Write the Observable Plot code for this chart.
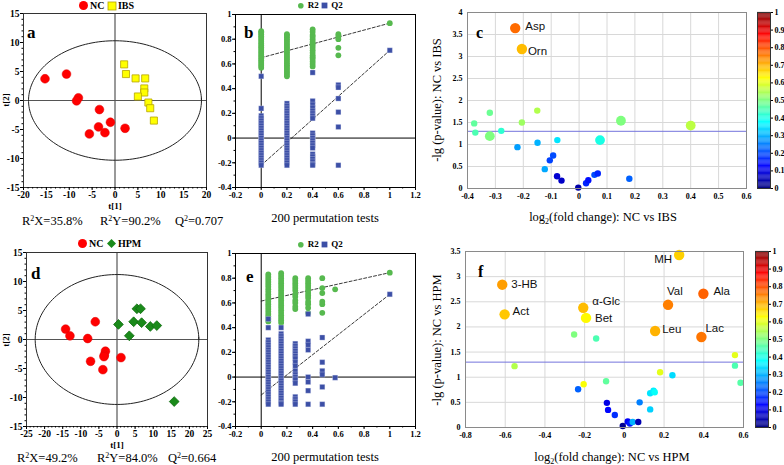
<!DOCTYPE html>
<html><head><meta charset="utf-8">
<script src="https://cdn.jsdelivr.net/npm/d3@7"></script>
<script src="https://cdn.jsdelivr.net/npm/@observablehq/plot@0.6"></script>
<style>
body{margin:0;background:#fff;}
#c{position:relative;width:784px;height:465px;overflow:hidden;background:#fff;font-family:"Liberation Serif","Times New Roman",serif;color:#000;}
.t{position:absolute;white-space:nowrap;line-height:1;}
.lg{position:absolute;display:flex;align-items:center;font-weight:bold;font-size:10px;line-height:1;white-space:nowrap;}
.lg svg{margin-right:1px;}
.sup{font-size:8px;position:relative;top:-4px;}
.sub{font-size:8px;position:relative;top:3px;}
</style></head><body><div id="c"></div>
<script>
// ---------- DATA ----------
// Panel a (OPLS-DA scores NC vs IBS)
const aNCx = [-15.3,-10.6,-8.0,-8.4,-3.4,-1.0,-3.6,-5.6,-2.2,2.2];
const aNCy = [3.75,4.56,0.46,-0.06,-1.56,-3.75,-4.56,-5.77,-5.54,-4.79];
const aIBSx = [2.0,2.4,4.5,6.6,6.4,6.4,5.0,7.3,7.7,8.5];
const aIBSy = [6.23,4.56,3.81,3.81,2.08,1.38,0.69,-0.35,-1.33,-3.46];
const aEllipseRadii = [18.9,10.3];
const aTicksX = [-20,-15,-10,-5,0,5,10,15,20];
const aTicksY = [-15,-10,-5,0,5,10,15];
const aStats = ["35.8%","90.2%","0.707"];

// Panel d (OPLS-DA scores NC vs HPM)
const dNCx = [-14.2,-13.0,-6.0,-8.1,-3.2,-3.5,-3.6,-7.3,-3.9,1.1];
const dNCy = [1.79,0.64,3.06,0.17,-2.02,-2.72,-2.95,-3.76,-5.2,-3.12];
const dHPMx = [0.4,3.4,4.6,5.5,6.5,6.8,9.2,11.0,15.8];
const dHPMy = [2.6,0.64,3.06,5.3,5.3,2.9,2.25,2.4,-10.7];
const dEllipseRadii = [22.6,11.2];
const dTicksX = [-25,-20,-15,-10,-5,0,5,10,15,20,25];
const dTicksY = [-15,-10,-5,0,5,10,15];
const dStats = ["49.2%","84.0%","0.664"];

// Panel b (permutation test NC vs IBS)
const bCols = [0,0.2,0.4,0.6,1];
const bR2_0 = [0.57,0.585,0.6,0.615,0.63,0.645,0.66,0.675,0.69,0.705,0.72,0.735,0.75,0.765,0.78,0.795,0.81,0.825,0.84,0.855,0.865];
const bR2_1 = [0.5,0.515,0.53,0.545,0.56,0.575,0.59,0.605,0.62,0.635,0.65,0.665,0.68,0.695,0.71,0.725,0.74,0.755,0.77,0.785,0.8,0.815,0.83,0.84];
const bR2_2 = [0.58,0.6,0.62,0.64,0.655,0.67,0.69,0.71,0.73,0.75,0.765,0.78,0.8,0.82,0.835,0.86,0.88];
const bR2_3 = [0.67,0.73,0.8,0.82,0.84];
const bR2_4 = [0.93];
const bQ2_0 = [0.5,0.24,0.18,0.16,0.14,0.12,0.1,0.08,0.06,0.04,0.02,0,-0.02,-0.04,-0.06,-0.08,-0.1,-0.12,-0.14,-0.16,-0.18,-0.2,-0.22];
const bQ2_1 = [0.28,0.26,0.24,0.22,0.2,0.18,0.16,0.14,0.12,0.1,0.08,0.06,0.04,0.02,0,-0.02,-0.04,-0.06,-0.08,-0.1,-0.12,-0.14,-0.16,-0.18,-0.2,-0.22];
const bQ2_2 = [0.53,0.3,0.27,0.245,0.22,0.2,0.18,0.16,0.04,0.02,0,-0.02,-0.04,-0.06,-0.08,-0.13,-0.15,-0.17,-0.19,-0.21,-0.22];
const bQ2_3 = [0.43,0.41,0.32,0.21,0.09,-0.22];
const bQ2_4 = [0.71];
const bR2Fit = [[0,0.65],[1,0.93]];
const bQ2Fit = [[0,-0.22],[1,0.71]];

// Panel e (permutation test NC vs HPM)
const eCols = [0.055,0.155,0.265,0.365,0.475,0.575,1];
const eR2_0 = [0.45,0.47,0.49,0.51,0.53,0.55,0.57,0.59,0.61,0.63,0.65,0.67,0.69,0.71,0.73,0.75,0.77,0.79,0.81,0.83];
const eR2_1 = [0.44,0.46,0.48,0.5,0.52,0.54,0.56,0.58,0.6,0.62,0.64,0.66,0.68,0.7,0.72,0.74,0.76,0.78,0.8,0.82,0.84];
const eR2_2 = [0.55,0.57,0.6,0.62,0.65,0.67,0.7,0.72,0.74,0.76,0.78,0.8];
const eR2_3 = [0.52,0.56,0.59,0.61,0.64,0.66,0.68,0.7,0.72,0.74,0.76,0.78,0.8];
const eR2_4 = [0.52,0.59,0.61,0.68,0.72,0.8];
const eR2_5 = [0.71];
const eR2_6 = [0.845];
const eQ2_0 = [0.47,0.4,0.3,0.28,0.26,0.24,0.22,0.2,0.18,0.16,0.14,0.12,0.1,0.08,0.06,0.04,0.02,0,-0.02,-0.04,-0.06,-0.08,-0.1,-0.12,-0.14,-0.16,-0.18,-0.2,-0.22];
const eQ2_1 = [0.4,0.35,0.33,0.31,0.29,0.27,0.25,0.23,0.21,0.19,0.17,0.15,0.13,0.11,0.09,0.07,0.05,0.03,0.01,-0.01,-0.03,-0.05,-0.07,-0.09,-0.11,-0.13,-0.15,-0.17,-0.19,-0.21,-0.22];
const eQ2_2 = [0.27,0.25,0.23,0.21,0.19,0.17,0.15,0.12,0.09,0.05,0.02,0,-0.02,-0.05,-0.16,-0.18,-0.2,-0.22];
const eQ2_3 = [0.51,0.29,0.26,0.22,0,-0.04,-0.11,-0.22];
const eQ2_4 = [0.32,0.12,0.05,0.02,-0.08,-0.22];
const eQ2_5 = [-0.005];
const eQ2_6 = [0.67];
const eR2Fit = [[0,0.615],[1,0.845]];
const eQ2Fit = [[0,-0.145],[1,0.67]];
const permTicksX = [-0.2,0,0.2,0.4,0.6,0.8,1,1.2];
const permTicksY = [-0.4,-0.2,0,0.2,0.4,0.6,0.8,1];

// Panel c (volcano NC vs IBS)
const cNames = ["Asp","Orn","","","","","","","","","","","","","","","","","","","","","","","",""];
const cFC = [-0.229,-0.205,-0.376,-0.372,-0.32,-0.32,-0.279,-0.205,-0.15,-0.221,-0.149,-0.078,0.075,0.15,0.40,-0.093,-0.105,-0.123,-0.079,-0.063,-0.003,0.025,0.033,0.055,0.067,0.18];
const cLogP = [3.645,3.17,1.48,1.27,1.72,1.19,1.31,1.50,1.77,0.94,1.04,1.10,1.10,1.54,1.43,0.75,0.64,0.44,0.28,0.18,0.02,0.12,0.19,0.31,0.34,0.22];
const cCorr = [0.77,0.69,0.47,0.45,0.48,0.5,0.42,0.53,0.55,0.28,0.3,0.35,0.4,0.5,0.56,0.2,0.19,0.29,0.08,0.07,0.04,0.16,0.14,0.2,0.16,0.22];
const cWeight = [3,3,1,1,1,2.7,1,1,1,1,1,1,2.7,2.7,2.7,1,1,1,1,1,1,1,1,1,1,1];
const cTicksX = [-0.4,-0.3,-0.2,-0.1,0,0.1,0.2,0.3,0.4,0.5,0.6];
const cTicksY = [0,0.5,1,1.5,2,2.5,3,3.5,4];

// Panel f (volcano NC vs HPM)
const fNames = ["MH","3-HB","Act","α-Glc","Bet","Val","Ala","Leu","Lac","","","","","","","","","","","","","","","","","","","","","","","",""];
const fFC = [0.276,-0.615,-0.603,-0.207,-0.193,0.22,0.398,0.155,0.388,-0.253,-0.142,-0.553,-0.205,-0.233,-0.092,-0.088,-0.082,-0.048,-0.008,0.017,0.028,0.042,0.07,0.077,0.13,0.13,0.147,0.153,0.18,0.242,0.557,0.557,0.585];
const fLogP = [3.43,2.84,2.25,2.38,2.18,2.44,2.66,1.92,1.80,1.85,1.77,1.22,0.86,0.76,0.92,0.49,0.35,0.25,0.03,0.12,0.08,0.11,0.11,0.50,0.36,0.68,0.73,0.70,1.10,1.04,1.44,1.23,0.89];
const fCorr = [0.67,0.72,0.68,0.69,0.63,0.75,0.78,0.7,0.76,0.5,0.45,0.55,0.62,0.22,0.47,0.1,0.13,0.17,0.02,0.12,0.15,0.3,0.05,0.25,0.33,0.35,0.36,0.38,0.6,0.34,0.6,0.45,0.46];
const fWeight = [3,3,3,3,3,3,3,3,3,1,1,1,1,1,1,1,1,1,1,1,1,1,1,1,1,1,1,1,1,1,1,1,1];
const fTicksX = [-0.8,-0.6,-0.4,-0.2,0,0.2,0.4,0.6];
const fTicksY = [0,0.5,1,1.5,2,2.5,3,3.5];
const pThreshold = 1.3;
const cbTicks = [0,0.1,0.2,0.3,0.4,0.5,0.6,0.7,0.8,0.9,1];

// ---------- HELPERS ----------
const root = document.getElementById("c");
function place(node, left, top){ node.style.position="absolute"; node.style.left=left+"px"; node.style.top=top+"px"; root.append(node); }
function txt(html, x, y, css, mode){
  const d=document.createElement("div"); d.className="t"; d.innerHTML=html;
  d.style.left=x+"px"; d.style.top=y+"px";
  let tr="translate(0,-50%)";
  if(mode==="c") tr="translate(-50%,-50%)";
  if(mode==="r") tr="translate(-50%,-50%) rotate(-90deg)";
  d.style.transform=tr; d.style.cssText+=css||""; root.append(d); return d;
}
const fmt = d => String(d);
const jetColors = ["#00007f","#0000ff","#007fff","#00ffff","#7fff7f","#ffff00","#ff7f00","#ff0000","#7f0000"];
const jet = d3.piecewise(d3.interpolateRgb, jetColors);
const pts = (xs, ys) => xs.map((x,i)=>({x, y:ys[i]}));
const ellipse = ([rx,ry]) => d3.range(0, 2*Math.PI+0.05, 0.04).map(t=>({x:rx*Math.cos(t), y:ry*Math.sin(t)}));
const minor = (lo,hi,step) => d3.range(lo, hi+step/2, step);

// ---------- SCORE PLOTS (a, d) ----------
function scores({w, h, mL, mR, mT, mB, xDom, yDom, xTicks, yTicks, g1, g2, ell, g2sym, g2fill, g2stroke, g2r}){
  return Plot.plot({
    width:w, height:h, marginLeft:mL, marginRight:mR, marginTop:mT, marginBottom:mB,
    style:{fontFamily:"Liberation Serif", fontSize:"9.5px", fontWeight:"bold", background:"transparent", overflow:"visible", color:"#000"},
    x:{domain:xDom}, y:{domain:yDom},
    marks:[
      Plot.ruleX([0],{stroke:"#555", strokeWidth:1.2}),
      Plot.ruleY([0],{stroke:"#555", strokeWidth:1.2}),
      Plot.line(ellipse(ell),{x:"x", y:"y", stroke:"#222", strokeWidth:1}),
      Plot.dot(g1,{x:"x", y:"y", r:4.4, fill:"#ff0000", stroke:"#e00000", strokeWidth:0.5}),
      Plot.dot(g2,{x:"x", y:"y", r:g2r, symbol:g2sym, fill:g2fill, stroke:g2stroke, strokeWidth:0.8}),
      Plot.frame({stroke:"#333"}),
      Plot.axisX({ticks:xTicks, tickSize:3, tickPadding:1, tickFormat:fmt, label:null}),
      Plot.axisX({ticks:minor(xDom[0],xDom[1],1), tickSize:1.5, tickFormat:()=>"", label:null}),
      Plot.axisY({ticks:yTicks, tickSize:3, tickPadding:1, tickFormat:fmt, label:null}),
      Plot.axisY({ticks:minor(yDom[0],yDom[1],1), tickSize:1.5, tickFormat:()=>"", label:null})
    ]
  });
}
place(scores({w:215,h:205,mL:23,mR:9,mT:13,mB:18,xDom:[-20,20],yDom:[-15,15],xTicks:aTicksX,yTicks:aTicksY,
  g1:pts(aNCx,aNCy), g2:pts(aIBSx,aIBSy), ell:aEllipseRadii, g2sym:"square", g2fill:"#ffff00", g2stroke:"#b5a400", g2r:4}),0,0);
place(scores({w:215,h:205,mL:26,mR:8,mT:13,mB:18,xDom:[-25,25],yDom:[-15,15],xTicks:dTicksX,yTicks:dTicksY,
  g1:pts(dNCx,dNCy), g2:pts(dHPMx,dHPMy), ell:dEllipseRadii, g2sym:"diamond2", g2fill:"#1a8a1a", g2stroke:"#0d6b0d", g2r:4.4}),0,239);

// ---------- PERMUTATION PLOTS (b, e) ----------
function perm({cols, r2, q2, r2fit, q2fit}){
  const R2 = cols.flatMap((c,i)=>r2[i].map(v=>({x:c, y:v})));
  const Q2 = cols.flatMap((c,i)=>q2[i].map(v=>({x:c, y:v})));
  return Plot.plot({
    width:210, height:205, marginLeft:23, marginRight:7, marginTop:14, marginBottom:18,
    style:{fontFamily:"Liberation Serif", fontSize:"8.5px", fontWeight:"bold", background:"transparent", overflow:"visible", color:"#000"},
    x:{domain:[-0.2,1.2]}, y:{domain:[-0.4,1]},
    marks:[
      Plot.ruleX([0],{stroke:"#000"}),
      Plot.ruleY([0],{stroke:"#000"}),
      Plot.line(r2fit,{stroke:"#222", strokeWidth:0.9, strokeDasharray:"3,2"}),
      Plot.line(q2fit,{stroke:"#222", strokeWidth:0.9, strokeDasharray:"3,2"}),
      Plot.dot(R2,{x:"x", y:"y", r:2.9, fill:"#57b94f"}),
      Plot.dot(Q2,{x:"x", y:"y", r:2.9, symbol:"square", fill:"#3c4fa6", stroke:"#e8ecf8", strokeWidth:0.3}),
      Plot.frame({stroke:"#000"}),
      Plot.axisX({ticks:permTicksX, tickSize:3, tickPadding:1, tickFormat:fmt, label:null}),
      Plot.axisX({ticks:minor(-0.2,1.2,0.1), tickSize:1.5, tickFormat:()=>"", label:null}),
      Plot.axisY({ticks:permTicksY, tickSize:3, tickPadding:1, tickFormat:fmt, label:null}),
      Plot.axisY({ticks:minor(-0.4,1,0.1), tickSize:1.5, tickFormat:()=>"", label:null})
    ]
  });
}
place(perm({cols:bCols, r2:[bR2_0,bR2_1,bR2_2,bR2_3,bR2_4], q2:[bQ2_0,bQ2_1,bQ2_2,bQ2_3,bQ2_4], r2fit:bR2Fit, q2fit:bQ2Fit}),212,0);
place(perm({cols:eCols, r2:[eR2_0,eR2_1,eR2_2,eR2_3,eR2_4,eR2_5,eR2_6], q2:[eQ2_0,eQ2_1,eQ2_2,eQ2_3,eQ2_4,eQ2_5,eQ2_6], r2fit:eR2Fit, q2fit:eQ2Fit}),212,239);

// ---------- VOLCANO PLOTS (c, f) ----------
function volcano({names, fc, lp, corr, wt, xDom, yDom, xTicks, yTicks, offsets, w, mL, mR}){
  const data = fc.map((x,i)=>({name:names[i], x, y:lp[i], v:corr[i], w:wt[i]}));
  const labelMarks = Object.entries(offsets).map(([nm,[dx,dy,anchor]]) =>
    Plot.text(data.filter(d=>d.name===nm),{x:"x", y:"y", text:"name", dx, dy, textAnchor:anchor||"start",
      fontFamily:"Liberation Sans", fontSize:11.5, fontWeight:"normal", fill:"#111"}));
  return Plot.plot({
    width:w, height:205, marginLeft:mL, marginRight:mR, marginTop:12, marginBottom:17,
    style:{fontFamily:"Liberation Serif", fontSize:"8px", fontWeight:"bold", background:"transparent", overflow:"visible", color:"#000"},
    x:{domain:xDom}, y:{domain:yDom},
    color:{type:"linear", domain:[0,1], interpolate:jet},
    r:{type:"linear", domain:[1,3], range:[3.2,5.2]},
    marks:[
      Plot.gridX(xTicks,{stroke:"#d8d8d8", strokeOpacity:1}),
      Plot.gridY(yTicks,{stroke:"#d8d8d8", strokeOpacity:1}),
      Plot.ruleY([pThreshold],{stroke:"#7373dd", strokeWidth:1}),
      Plot.dot(data,{x:"x", y:"y", fill:"v", r:"w"}),
      ...labelMarks,
      Plot.frame({stroke:"#8a8a8a"}),
      Plot.axisX({ticks:xTicks, tickSize:0, tickPadding:5, tickFormat:fmt, label:null}),
      Plot.axisY({ticks:yTicks, tickSize:0, tickPadding:5, tickFormat:fmt, label:null})
    ]
  });
}
place(volcano({names:cNames, fc:cFC, lp:cLogP, corr:cCorr, wt:cWeight, xDom:[-0.4,0.6], yDom:[0,4], xTicks:cTicksX, yTicks:cTicksY,
  offsets:{Asp:[10,-2], Orn:[6,2]}, w:310, mL:27, mR:4}),440,0);
place(volcano({names:fNames, fc:fFC, lp:fLogP, corr:fCorr, wt:fWeight, xDom:[-0.8,0.6], yDom:[0,3.5], xTicks:fTicksX, yTicks:fTicksY,
  offsets:{"MH":[-7,4,"end"], "3-HB":[9,0], "Act":[8,-3], "α-Glc":[9,-7], "Bet":[9,0], "Val":[-1,-13], "Ala":[10,-2], "Leu":[7,-2], "Lac":[4,-9]},
  w:310, mL:25, mR:7}),440,239);

// ---------- COLOR BARS ----------
function colorbar(){
  const stops = d3.range(0,1,0.005);
  return Plot.plot({
    width:40, height:205, marginLeft:0, marginRight:27, marginTop:12, marginBottom:17,
    style:{fontFamily:"Liberation Serif", fontSize:"8px", fontWeight:"bold", background:"transparent", overflow:"visible", color:"#000"},
    x:{domain:[0,1], axis:null}, y:{domain:[0,1]},
    color:{type:"linear", domain:[0,1], interpolate:jet},
    marks:[
      Plot.rect(stops,{x1:0, x2:1, y1:d=>d, y2:d=>d+0.0055, fill:d=>d+0.0025}),
      Plot.frame({stroke:"#333"}),
      Plot.axisY({anchor:"right", ticks:cbTicks, tickSize:2, tickPadding:2, tickFormat:fmt, label:null})
    ]
  });
}
place(colorbar(),757,0);
place(colorbar(),755,239);

// ---------- TEXT ----------
const sym = {
  circ:(c,r)=>`<svg width="${2*r+2}" height="${2*r+2}"><circle cx="${r+1}" cy="${r+1}" r="${r}" fill="${c}"/></svg>`,
  sq:(c,s,st)=>`<svg width="${s+2}" height="${s+2}"><rect x="1" y="1" width="${s}" height="${s}" fill="${c}" stroke="${st}" stroke-width="0.8"/></svg>`,
  dia:(c,s)=>`<svg width="${s+2}" height="${s+2}"><path d="M${s/2+1},1L${s+1},${s/2+1}L${s/2+1},${s+1}L1,${s/2+1}Z" fill="${c}"/></svg>`
};
function legend(html, left, top, fs){ const d=document.createElement("div"); d.className="lg"; d.innerHTML=html; d.style.left=left+"px"; d.style.top=top+"px"; if(fs) d.style.fontSize=fs+"px"; root.append(d); }
legend(`${sym.circ("#ff0000",4.5)}<span>NC</span>&nbsp;${sym.sq("#ffff00",8,"#b5a400")}<span>IBS</span>`,78,0);
legend(`${sym.circ("#ff0000",4.5)}<span>NC</span>&nbsp;${sym.dia("#1a8a1a",9)}<span>HPM</span>`,77,238);
legend(`${sym.circ("#57b94f",2.8)}&nbsp;<span>R2</span>&nbsp;${sym.sq("#3c4fa6",5,"#3c4fa6")}&nbsp;<span>Q2</span>`,297,1,9);
legend(`${sym.circ("#57b94f",2.8)}&nbsp;<span>R2</span>&nbsp;${sym.sq("#3c4fa6",5,"#3c4fa6")}&nbsp;<span>Q2</span>`,297,240,9);

const letter = "font-weight:bold;font-size:17px;";
txt("a",27,32,letter); txt("b",244,32,letter); txt("c",476,33,"font-weight:bold;font-size:16px;");
txt("d",31,273,letter); txt("e",246,276,letter); txt("f",478,272,"font-weight:bold;font-size:16px;");

const ax = "font-weight:bold;font-size:9px;";
txt("t[1]",115,206,ax,"c"); txt("t[2]",6,100,ax,"r");
txt("t[1]",117,445,ax,"c"); txt("t[2]",6,340,ax,"r");

const st = "font-size:12.5px;";
function stats(vals, y, xs){
  txt(`R<span class="sup">2</span>X=${vals[0]}`, xs[0], y, st);
  txt(`R<span class="sup">2</span>Y=${vals[1]}`, xs[1], y, st);
  txt(`Q<span class="sup">2</span>=${vals[2]}`, xs[2], y, st);
}
stats(aStats, 221, [22,100,175]);
stats(dStats, 458, [17,97,168]);

const lab = "font-size:12.5px;";
txt("200 permutation tests",325,218,lab,"c");
txt("200 permutation tests",325,457,lab,"c");
txt(`log<span class="sub">2</span>(fold change): NC vs IBS`,603,217,lab,"c");
txt(`log<span class="sub">2</span>(fold change): NC vs HPM`,612,457,lab,"c");
txt("-lg (p-value): NC vs IBS",437,100,lab,"r");
txt("-lg (p-value): NC vs HPM",437,340,lab,"r");
</script></body></html>
